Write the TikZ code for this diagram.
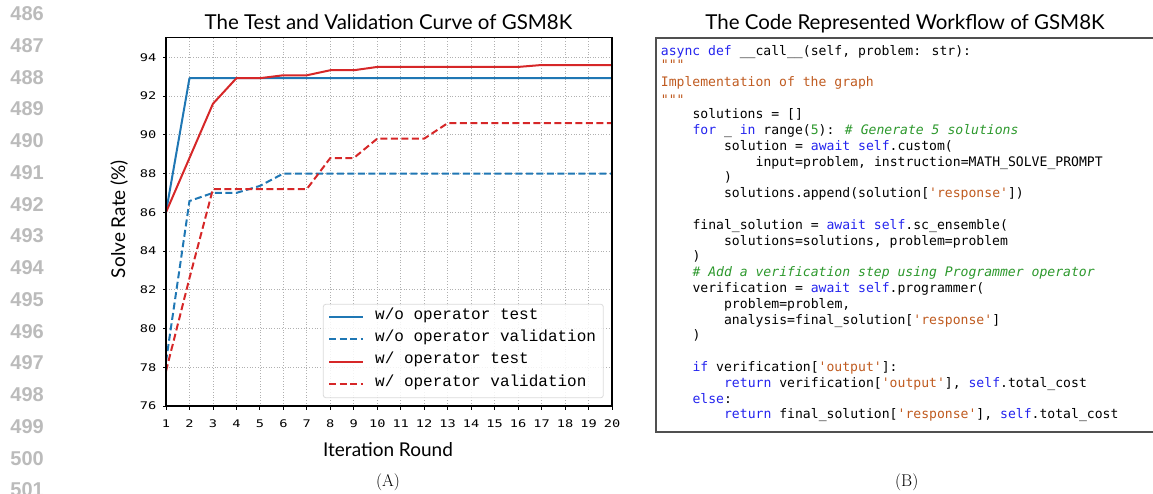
\documentclass[tikz,border=0pt]{standalone}
\usepackage{fontspec}
\newfontfamily\titlefont{Lato}
\newfontfamily\codefont[Ligatures=TeXOff]{DejaVu Sans Mono}
\newfontfamily\tickfont[FakeStretch=1.3]{DejaVu Sans Mono}
\newfontfamily\legfont[Ligatures=TeXOff]{Liberation Mono}
\newfontfamily\numfont{Liberation Sans}
\definecolor{mplblue}{HTML}{1F77B4}
\definecolor{mplred}{HTML}{D62728}
\definecolor{kwblue}{HTML}{2323EE}
\definecolor{strorange}{HTML}{BF5A1F}
\definecolor{cmgreen}{HTML}{2C982C}
\definecolor{gridgray}{HTML}{B0B0B0}
\definecolor{framegray}{HTML}{505050}
\definecolor{lngray}{HTML}{BBBBBB}
\newcommand\kw[1]{\textcolor{kwblue}{#1}}
\newcommand\st[1]{\textcolor{strorange}{#1}}
\newcommand\cm[1]{\textcolor{cmgreen}{\itshape #1}}
\newcommand\nm[1]{\textcolor{cmgreen}{#1}}
\begin{document}
\begin{tikzpicture}[x=1pt,y=-1pt,
  title/.style={font=\titlefont\fontsize{20.5}{24}\selectfont, anchor=base, inner sep=0},
  axlabel/.style={font=\titlefont\fontsize{19}{22}\selectfont, anchor=base, inner sep=0},
  caption/.style={font=\fontsize{17}{20}\selectfont, anchor=base, inner sep=0},
  linenum/.style={font=\numfont\bfseries\fontsize{20}{24}\selectfont, text=lngray, anchor=base east, inner sep=0},
  codeline/.style={font=\codefont\fontsize{13.1}{15}\selectfont, anchor=mid west, inner sep=0},
  ticklabel/.style={font=\tickfont\fontsize{10.5}{12}\selectfont, inner sep=0},
  legtext/.style={font=\legfont\fontsize{16}{19}\selectfont, anchor=mid west, inner sep=0},
  gridline/.style={gridgray, line width=0.7pt, dotted},
  series/.style={line width=2pt, line join=round},
  dashedseries/.style={line width=2pt, dash pattern=on 7pt off 3.5pt},
  legbox/.style={draw=black!14, line width=0.8pt, rounded corners=2.5pt, fill=white, fill opacity=0.85, inner sep=0},
  codeframe/.style={draw=framegray, line width=1.6pt}
]
\useasboundingbox (0,0) rectangle (1153,493);

% line numbers
\foreach \k in {0,...,15}{
  \pgfmathtruncatemacro\lnum{486+\k}
  \node[linenum] (ln\lnum) at (44, 20.7+31.75*\k) {\lnum};
}

% titles and captions
\node[title] (titleA) at (388.5, 29.3) {The Test and Validation Curve of GSM8K};
\node[title] (titleB) at (905, 29.3) {The Code Represented Workflow of GSM8K};
\node[caption] (capA) at (388, 486.7) {(A)};
\node[caption] (capB) at (906.7, 486.7) {(B)};
\node[axlabel] (xlab) at (388, 456.7) {Iteration Round};
\node[axlabel, rotate=90] (ylab) at (125, 219) {Solve Rate (\%)};

% plot
\begin{scope}[shift={(166,406)}, x=23.4737pt, y=19.375pt]
  \foreach \i in {1,...,18} \draw[gridline] (\i,0) -- (\i,19);
  \foreach \j in {2,4,...,18} \draw[gridline] (0,\j) -- (19,\j);
  \foreach \i in {1,...,20}{
    \draw[line width=0.8pt] (\i-1,0) -- ++(0pt,-3.5pt);
    \node[ticklabel, anchor=north] (xt\i) at ([yshift=-13.3pt]\i-1,0) {\i};
  }
  \foreach \v in {76,78,...,94}{
    \draw[line width=0.8pt] (0,\v-76) -- ++(-3.5pt,0pt);
    \node[ticklabel, anchor=east] (yt\v) at ([xshift=-9.5pt]0,\v-76) {\v};
  }
  % w/o operator test
  \draw[series, mplblue] (0,10) -- (1,16.92) -- (19,16.92);
  % w/o operator validation
  \draw[dashedseries, mplblue] (0,2.3) -- (1,10.58) -- (2,11) -- (3,11) -- (4,11.36) -- (5,12) -- (19,12);
  % w/ operator test
  \draw[series, mplred] (0,10) -- (1,12.8) -- (2,15.6) -- (3,16.92) -- (4,16.92) -- (5,17.07) -- (6,17.07) -- (7,17.33) -- (8,17.33) -- (9,17.5) -- (15,17.5) -- (16,17.6) -- (19,17.6);
  % w/ operator validation
  \draw[dashedseries, mplred] (0,1.8) -- (1,6.6) -- (2,11.2) -- (6,11.2) -- (7,12.8) -- (8,12.8) -- (9,13.8) -- (11,13.8) -- (12,14.6) -- (19,14.6);
  \draw[line width=1.1pt] (0,0) rectangle (19,19);
\end{scope}

% legend
\node[legbox, minimum width=280pt, minimum height=93.4pt] (legend) at (463.3,351) {};
\draw[series, mplblue] (329,317.3) -- (363,317.3);
\draw[dashedseries, mplblue] (329,339.3) -- (363,339.3);
\draw[series, mplred] (329,361.7) -- (363,361.7);
\draw[dashedseries, mplred] (329,384.3) -- (363,384.3);
\node[legtext] (leg1) at (375,317.3) {w/o operator test};
\node[legtext] (leg2) at (375,339.3) {w/o operator validation};
\node[legtext] (leg3) at (375,361.7) {w/ operator test};
\node[legtext] (leg4) at (375,384.3) {w/ operator validation};

% code box
\draw[codeframe] (656,38) rectangle (1162,432);
\begin{scope}[yshift=-1.5pt]
\node[codeline] (c1) at (660.7,51.7) {\kw{async def} \_\_call\_\_(self, problem: str):};
\node[codeline] (c2) at (660.7,66) {\st{"""}};
\node[codeline] (c3) at (660.7,83) {\st{Implementation of the graph}};
\node[codeline] (c4) at (660.7,101) {\st{"""}};
\node[codeline] (c5) at (692.3,115) {solutions = []};
\node[codeline] (c6) at (692.3,130.8) {\kw{for} \_ \kw{in} range(\nm{5}): \cm{\# Generate 5 solutions}};
\node[codeline] (c7) at (723.9,146.6) {solution = \kw{await} \kw{self}.custom(};
\node[codeline] (c8) at (755.5,162.4) {input=problem, instruction=MATH\_SOLVE\_PROMPT};
\node[codeline] (c9) at (723.9,178.2) {)};
\node[codeline] (c10) at (723.9,194) {solutions.append(solution[\st{'response'}])};
\node[codeline] (c11) at (692.3,225.6) {final\_solution = \kw{await} \kw{self}.sc\_ensemble(};
\node[codeline] (c12) at (723.9,241.4) {solutions=solutions, problem=problem};
\node[codeline] (c13) at (692.3,257.2) {)};
\node[codeline] (c14) at (692.3,273) {\cm{\# Add a verification step using Programmer operator}};
\node[codeline] (c15) at (692.3,288.8) {verification = \kw{await} \kw{self}.programmer(};
\node[codeline] (c16) at (723.9,304.6) {problem=problem,};
\node[codeline] (c17) at (723.9,320.4) {analysis=final\_solution[\st{'response'}]};
\node[codeline] (c18) at (692.3,336.2) {)};
\node[codeline] (c19) at (692.3,367.8) {\kw{if} verification[\st{'output'}]:};
\node[codeline] (c20) at (723.9,383.6) {\kw{return} verification[\st{'output'}], \kw{self}.total\_cost};
\node[codeline] (c21) at (692.3,399.4) {\kw{else}:};
\node[codeline] (c22) at (723.9,415.2) {\kw{return} final\_solution[\st{'response'}], \kw{self}.total\_cost};
\end{scope}
\end{tikzpicture}
\end{document}
